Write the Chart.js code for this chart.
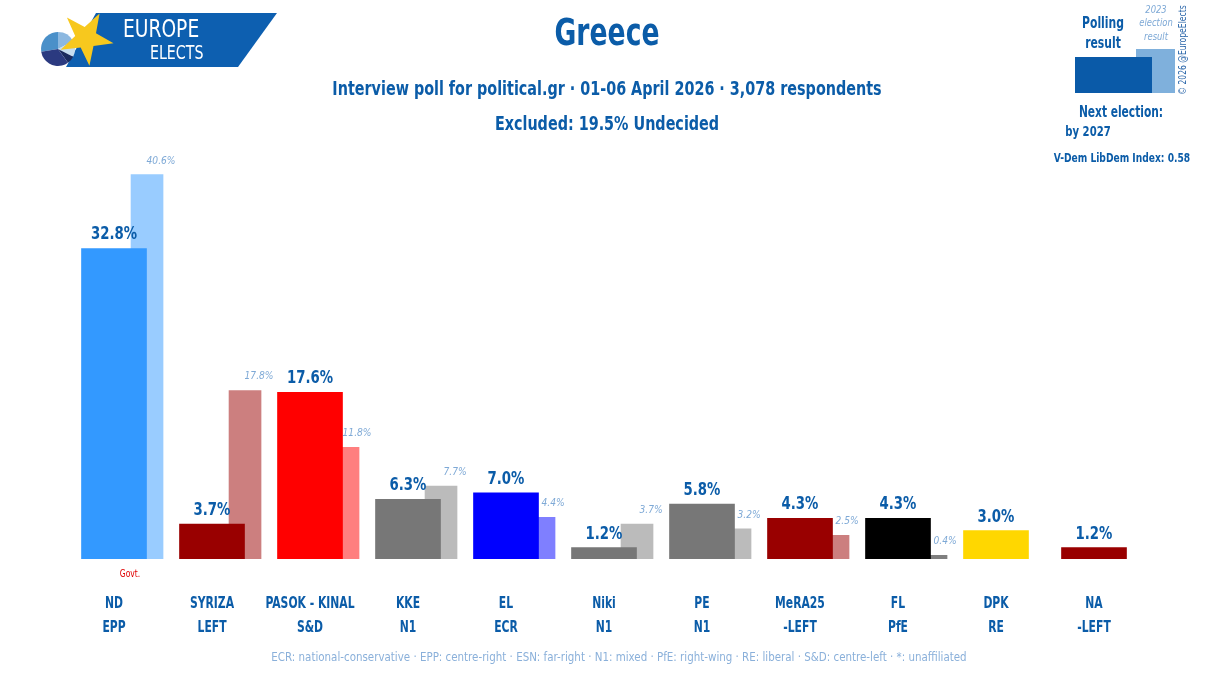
<!DOCTYPE html>
<html>
<head>
<meta charset="utf-8">
<script src="https://cdn.jsdelivr.net/npm/chart.js@4.4.1/dist/chart.umd.min.js"></script>
<style>
  html, body { margin: 0; padding: 0; background: #fff; }
  #wrap { width: 1215px; height: 700px; position: relative; }
</style>
</head>
<body>
<div id="wrap"><canvas id="pollChart" width="1215" height="700"></canvas></div>
<script>
const parties = ["ND", "SYRIZA", "PASOK - KINAL", "KKE", "EL", "Niki", "PE", "MeRA25", "FL", "DPK", "NA"];
const groups = ["EPP", "LEFT", "S&D", "N1", "ECR", "N1", "N1", "-LEFT", "PfE", "RE", "-LEFT"];
const poll = [32.8, 3.7, 17.6, 6.3, 7.0, 1.2, 5.8, 4.3, 4.3, 3.0, 1.2];
const election = [40.6, 17.8, 11.8, 7.7, 4.4, 3.7, 3.2, 2.5, 0.4, null, null];
const pollColors = ["#3399ff", "#990000", "#ff0000", "#777777", "#0000ff", "#777777", "#777777", "#990000", "#000000", "#ffd700", "#990000"];
const electionColors = ["#99ccff", "#cc7f7f", "#ff7f7f", "#bbbbbb", "#7f7fff", "#bbbbbb", "#bbbbbb", "#cc7f7f", "#7f7f7f", "#cccccc", "#cc7f7f"];

const FONT = '"Liberation Sans Narrow", "DejaVu Sans Condensed", sans-serif';
const BLUE = "#0b5ca8";
const LIGHT = "#7ea9d6";
const SHIFT = 0.337; // election bar offset, in category widths

const cvs = document.getElementById('pollChart');

// draw text squeezed horizontally (the original face is a narrow one)
function txt(ctx, s, x, y, font, color, squeeze, align) {
    ctx.save();
    ctx.font = font;
    ctx.fillStyle = color;
    ctx.textAlign = align || 'center';
    ctx.translate(x, y);
    ctx.scale(squeeze, 1);
    ctx.fillText(s, 0, 0);
    ctx.restore();
}

const decor = {
    id: 'decor',
    afterDatasetsDraw(chart) {
        const ctx = chart.ctx;
        const xs = chart.scales.x;
        const m0 = chart.getDatasetMeta(0);
        const m1 = chart.getDatasetMeta(1);

        // value labels
        m1.data.forEach((bar, i) => {
            if (election[i] == null) return;
            txt(ctx, election[i].toFixed(1) + '%', bar.x + 14, bar.y - 11, 'italic 11px ' + FONT, LIGHT, 0.92);
        });
        m0.data.forEach((bar, i) => {
            txt(ctx, poll[i].toFixed(1) + '%', bar.x, bar.y - 9, 'bold 18px ' + FONT, BLUE, 0.82);
        });

        // category labels at the axis positions
        parties.forEach((p, i) => {
            const px = xs.getPixelForValue(i);
            txt(ctx, p, px, 608, 'bold 15px ' + FONT, BLUE, 0.8);
            txt(ctx, groups[i], px, 632, 'bold 15px ' + FONT, BLUE, 0.8);
        });

        txt(ctx, 'Govt.', m0.data[0].x + 16, 577, '10px ' + FONT, '#e00000', 0.85);

        // titles
        txt(ctx, 'Greece', 607, 45, 'bold 37px ' + FONT, BLUE, 0.8);
        txt(ctx, 'Interview poll for political.gr \u00b7 01-06 April 2026 \u00b7 3,078 respondents', 607, 95, 'bold 19px ' + FONT, BLUE, 0.84);
        txt(ctx, 'Excluded: 19.5% Undecided', 607, 130, 'bold 19px ' + FONT, BLUE, 0.84);

        // footnote
        txt(ctx, 'ECR: national-conservative \u00b7 EPP: centre-right \u00b7 ESN: far-right \u00b7 N1: mixed \u00b7 PfE: right-wing \u00b7 RE: liberal \u00b7 S&D: centre-left \u00b7 *: unaffiliated', 619, 661, '13px ' + FONT, '#8ab0da', 0.88);

        // legend box
        ctx.fillStyle = '#7fb0dc';
        ctx.fillRect(1136, 49, 39, 44);
        ctx.fillStyle = '#0a5aa8';
        ctx.fillRect(1075, 57, 77, 36);
        txt(ctx, 'Polling', 1103, 28, 'bold 16px ' + FONT, BLUE, 0.75);
        txt(ctx, 'result', 1103, 48, 'bold 16px ' + FONT, BLUE, 0.75);
        txt(ctx, '2023', 1156, 13, 'italic 11px ' + FONT, LIGHT, 0.85);
        txt(ctx, 'election', 1156, 26, 'italic 11px ' + FONT, LIGHT, 0.85);
        txt(ctx, 'result', 1156, 40, 'italic 11px ' + FONT, LIGHT, 0.85);
        txt(ctx, 'Next election:', 1121, 117, 'bold 16px ' + FONT, BLUE, 0.74);
        txt(ctx, 'by 2027', 1088, 136, 'bold 14px ' + FONT, BLUE, 0.8);
        txt(ctx, 'V-Dem LibDem Index: 0.58', 1122, 162, 'bold 13px ' + FONT, BLUE, 0.78);

        ctx.save();
        ctx.translate(1186, 50);
        ctx.rotate(-Math.PI / 2);
        txt(ctx, '\u00a9 2026 @EuropeElects', 0, 0, '10px ' + FONT, '#2a66aa', 0.85);
        ctx.restore();

        // logo
        ctx.save();
        ctx.fillStyle = '#0d5fb0';
        ctx.beginPath();
        ctx.moveTo(96, 13); ctx.lineTo(277, 13); ctx.lineTo(238, 67); ctx.lineTo(66, 67);
        ctx.closePath(); ctx.fill();
        const pieCols = ['#4a90c9', '#8cb8e0', '#c5ddf0', '#1a2a5e', '#2b3a80'];
        const ang = [0.55, 0.35, 0.3, 0.15, 0.65];
        let a = Math.PI * 0.95;
        pieCols.forEach((c, k) => {
            ctx.fillStyle = c;
            ctx.beginPath();
            ctx.moveTo(58, 49);
            ctx.arc(58, 49, 17, a, a + ang[k] * Math.PI);
            ctx.closePath(); ctx.fill();
            a += ang[k] * Math.PI;
        });
        ctx.fillStyle = '#f7c81e';
        ctx.beginPath();
        for (let k = 0; k < 10; k++) {
            const r = k % 2 ? 11 : 28;
            const t = -61 * Math.PI / 180 + k * Math.PI / 5;
            ctx.lineTo(86 + r * Math.cos(t), 38 + r * Math.sin(t));
        }
        ctx.closePath(); ctx.fill();
        ctx.restore();
        txt(ctx, 'EUROPE', 123, 37, '25px ' + FONT, '#ffffff', 0.83, 'left');
        txt(ctx, 'ELECTS', 150, 59, '19px ' + FONT, '#ffffff', 0.83, 'left');
    }
};

const chart = new Chart(cvs, {
    type: 'bar',
    data: {
        labels: parties,
        datasets: [{
            label: 'Polling result',
            data: poll,
            backgroundColor: pollColors,
            barThickness: 65,
            xAxisID: 'x',
            order: 0
        }, {
            label: '2023 election result',
            data: election.map((v, i) => ({ x: i, y: v })),
            backgroundColor: electionColors,
            barThickness: 32,
            xAxisID: 'x2',
            order: 1
        }]
    },
    options: {
        responsive: false,
        animation: false,
        maintainAspectRatio: false,
        layout: { padding: { left: 65, right: 72, top: 133, bottom: 141 } },
        plugins: { legend: { display: false }, tooltip: { enabled: false } },
        datasets: { bar: { grouped: false } },
        scales: {
            x: {
                type: 'category',
                display: false,
                offset: true
            },
            x2: {
                type: 'linear',
                display: false,
                offset: false,
                grid: { offset: false },
                min: -0.5 - SHIFT,
                max: parties.length - 0.5 - SHIFT
            },
            y: {
                display: false,
                min: 0,
                max: 45
            }
        }
    },
    plugins: [decor]
});
</script>
</body>
</html>
